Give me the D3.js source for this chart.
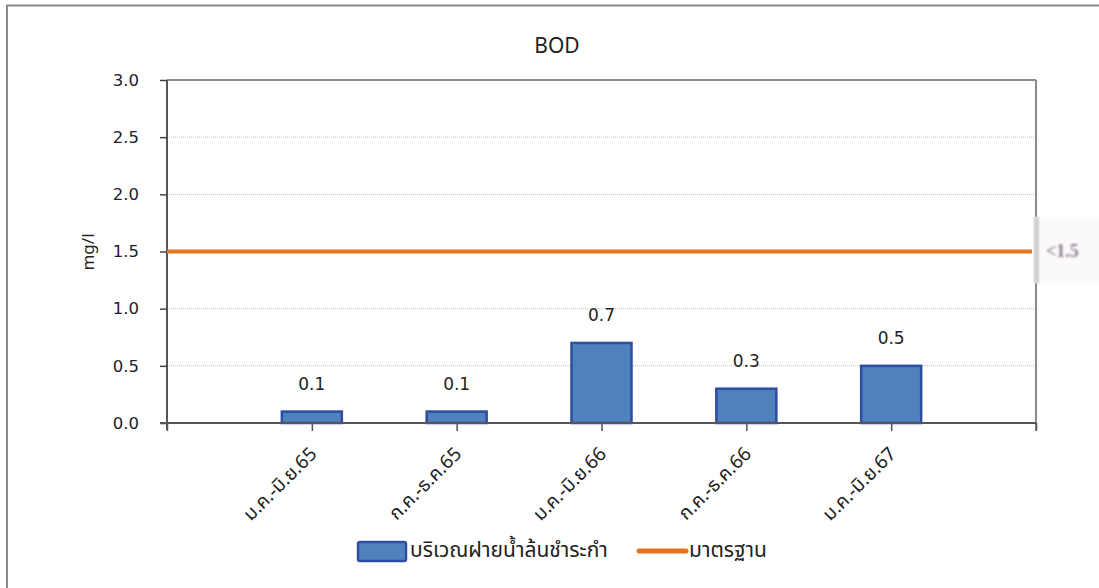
<!DOCTYPE html>
<html>
<head>
<meta charset="utf-8">
<script src="https://cdn.jsdelivr.net/npm/d3@7"></script>
<style>
  html, body { margin: 0; padding: 0; background: #fff; }
  svg { display: block; }
</style>
</head>
<body>
<svg id="chart" width="1099" height="588"></svg>
<script>
const categories = ["ม.ค.-มิ.ย.65", "ก.ค.-ธ.ค.65", "ม.ค.-มิ.ย.66", "ก.ค.-ธ.ค.66", "ม.ค.-มิ.ย.67"];
const bodValues = [0.1, 0.1, 0.7, 0.3, 0.5];
const standardValue = 1.5;
const yTicks = [0, 0.5, 1.0, 1.5, 2.0, 2.5, 3.0];
const title = "BOD";
const yTitle = "mg/l";
const seriesName = "บริเวณฝายน้ำล้นชำระกำ";
const standardName = "มาตรฐาน";
const standardLabel = "<1.5";

const svg = d3.select("#chart");
const pLeft = 167, pRight = 1036, pTop = 80, pBottom = 423;
const thaiFont = "'Noto Sans Thai', 'Noto Sans', 'DejaVu Sans', sans-serif";
const numFont = "'DejaVu Sans', Verdana, sans-serif";

const x = d3.scaleLinear().domain([-1, categories.length]).range([pLeft, pRight]);
const y = d3.scaleLinear().domain([0, 3]).range([pBottom, pTop]);

// outer frame
svg.append("rect").attr("x", 7).attr("y", 5.5).attr("width", 1200).attr("height", 700)
  .attr("fill", "none").attr("stroke", "#8a8a8a").attr("stroke-width", 2);

// title
svg.append("text").attr("x", 557).attr("y", 53).attr("text-anchor", "middle")
  .attr("font-family", "'Noto Sans', 'Open Sans', sans-serif").attr("font-size", 21)
  .attr("fill", "#222").text(title);

// gridlines
svg.append("g").selectAll("line").data(yTicks.filter(t => t > 0 && t < 3)).join("line")
  .attr("x1", pLeft).attr("x2", pRight).attr("y1", d => y(d)).attr("y2", d => y(d))
  .attr("stroke", "#b8b8b8").attr("stroke-width", 1).attr("stroke-dasharray", "1,1");

// top border and right border
svg.append("line").attr("x1", pLeft).attr("x2", pRight).attr("y1", y(3)).attr("y2", y(3))
  .attr("stroke", "#8a8a8a").attr("stroke-width", 2);
svg.append("line").attr("x1", pRight).attr("x2", pRight).attr("y1", y(3)).attr("y2", pBottom + 8)
  .attr("stroke", "#8a8a8a").attr("stroke-width", 2);

// y axis
const yAxis = d3.axisLeft(y).tickValues(yTicks).tickFormat(d3.format(".1f")).tickSize(7).tickPadding(21);
const gy = svg.append("g").attr("transform", `translate(${pLeft},0)`).call(yAxis);
gy.select(".domain").attr("stroke", "#555").attr("stroke-width", 2).attr("d", `M0,${pTop}V${pBottom + 7}`);
gy.selectAll(".tick line").attr("stroke", "#444").attr("stroke-width", 1.5);
gy.selectAll(".tick text").attr("font-family", numFont).attr("font-size", 16.5).attr("fill", "#222");

// y title
svg.append("text").attr("transform", `translate(94,252) rotate(-90)`).attr("text-anchor", "middle")
  .attr("font-family", thaiFont).attr("font-size", 17).attr("fill", "#222").text(yTitle);

// bars
const barW = 60;
svg.append("g").selectAll("rect").data(bodValues).join("rect")
  .attr("x", (d, i) => x(i) - barW / 2).attr("width", barW)
  .attr("y", d => y(d)).attr("height", d => y(0) - y(d))
  .attr("fill", "#4f81bd").attr("stroke", "#2d4da0").attr("stroke-width", 2.5);

// x axis
const xAxis = d3.axisBottom(x).tickValues(d3.range(-1, categories.length + 1)).tickFormat("").tickSize(8);
const gx = svg.append("g").attr("transform", `translate(0,${pBottom})`).call(xAxis);
gx.select(".domain").attr("stroke", "#555").attr("stroke-width", 2).attr("d", `M${pLeft - 7},0H${pRight}`);
gx.selectAll(".tick line").attr("stroke", "#555").attr("stroke-width", 1.5);

// x labels rotated
svg.append("g").selectAll("text").data(categories).join("text")
  .attr("transform", (d, i) => `translate(${x(i) + 6},${pBottom + 32}) rotate(-45)`)
  .attr("text-anchor", "end").attr("font-family", thaiFont).attr("font-size", 19)
  .attr("fill", "#222").text(d => d);

// data labels
svg.append("g").selectAll("text").data(bodValues).join("text")
  .attr("x", (d, i) => x(i)).attr("y", d => y(d) - 22).attr("text-anchor", "middle")
  .attr("font-family", numFont).attr("font-size", 17).attr("fill", "#222")
  .text(d => d3.format(".1f")(d));

// standard line
svg.append("line").attr("x1", pLeft).attr("x2", pRight - 4).attr("y1", y(standardValue)).attr("y2", y(standardValue))
  .attr("stroke", "#e8731f").attr("stroke-width", 4);

// faded standard label artifact
const defs = svg.append("defs");
defs.append("filter").attr("id", "blur").append("feGaussianBlur").attr("stdDeviation", 1.1);
svg.append("rect").attr("x", pRight - 3).attr("y", 217).attr("width", 66).attr("height", 66)
  .attr("fill", "#fcf8fb").attr("opacity", 0.9);
svg.append("rect").attr("x", pRight - 2).attr("y", 217).attr("width", 5).attr("height", 66)
  .attr("fill", "#cfcfcf").attr("filter", "url(#blur)");
svg.append("text").attr("x", 1046).attr("y", y(standardValue) + 5).attr("font-family", "'Liberation Serif', serif")
  .attr("font-size", 18).attr("font-weight", "bold").attr("fill", "#8a7a90").attr("filter", "url(#blur)")
  .text(standardLabel);

// legend
const lg = svg.append("g");
lg.append("rect").attr("x", 358).attr("y", 542).attr("width", 48).attr("height", 19).attr("rx", 2)
  .attr("fill", "#4f81bd").attr("stroke", "#2d4da0").attr("stroke-width", 2.5);
lg.append("text").attr("x", 410).attr("y", 557).attr("font-family", thaiFont).attr("font-size", 21)
  .attr("fill", "#222").text(seriesName);
lg.append("line").attr("x1", 639).attr("x2", 686).attr("y1", 551).attr("y2", 551)
  .attr("stroke", "#e8731f").attr("stroke-width", 5).attr("stroke-linecap", "round");
lg.append("text").attr("x", 689).attr("y", 557).attr("font-family", thaiFont).attr("font-size", 21)
  .attr("fill", "#222").text(standardName);
</script>
</body>
</html>
